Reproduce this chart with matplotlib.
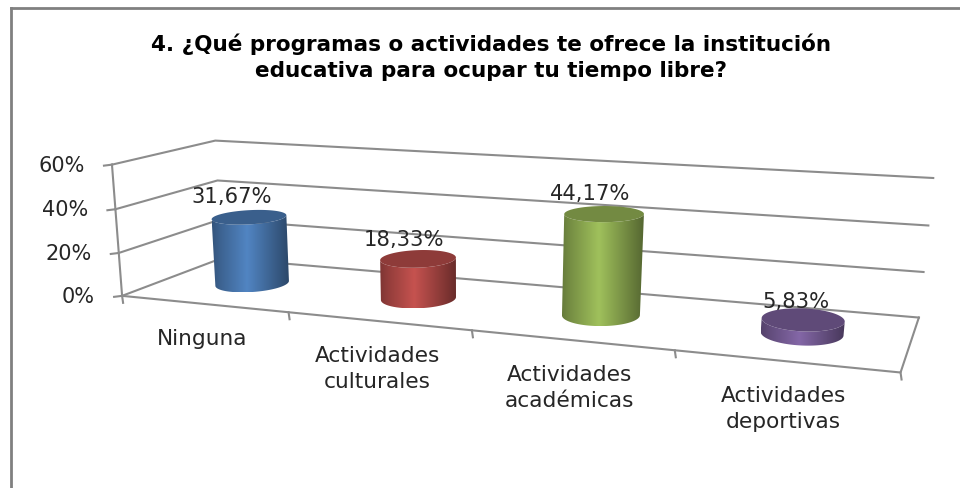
import matplotlib
matplotlib.use("Agg")
import matplotlib.pyplot as plt
import numpy as np
from matplotlib.patches import Polygon
from matplotlib.colors import to_rgb

# values
categories = ["Ninguna", "Actividades\nculturales", "Actividades\nacadémicas", "Actividades\ndeportivas"]
values = [31.67, 18.33, 44.17, 5.83]
value_labels = ["31,67%", "18,33%", "44,17%", "5,83%"]
y_ticks = [0, 20, 40, 60]
y_tick_labels = ["0%", "20%", "40%", "60%"]
colors = ["#4F81BD", "#C0504D", "#9BBB59", "#8064A2"]

title = "4. ¿Qué programas o actividades te ofrece la institución\neducativa para ocupar tu tiempo libre?"
grid_color = "#8c8c8c"
text_color = "#262626"

# camera: (category pos, depth, value) -> pixel, fitted on the corners of the 3D box
calib = [
    ((0, 0, 0), (123, 296)), ((0, 0, 20), (120, 253)), ((0, 0, 40), (115, 209)), ((0, 0, 60), (110, 165)),
    ((0, 1, 0), (220, 259)), ((0, 1, 20), (219, 219)), ((0, 1, 40), (218, 181)), ((0, 1, 60), (217, 140)),
    ((4, 1, 0), (919, 317)), ((4, 1, 20), (924, 272)), ((4, 1, 40), (928, 226)), ((4, 1, 60), (933, 178)),
    ((4, 0, 0), (901, 373)), ((1, 0, 0), (289, 312)), ((2, 0, 0), (472, 330)), ((3, 0, 0), (674, 350)),
]
A, rhs = [], []
for (u, v, z), (px, py) in calib:
    A.append([u, v, z, 1, 0, 0, 0, 0, -px * u, -px * v, -px * z])
    rhs.append(px)
    A.append([0, 0, 0, 0, u, v, z, 1, -py * u, -py * v, -py * z])
    rhs.append(py)
cam = np.linalg.lstsq(np.array(A, float), np.array(rhs, float), rcond=None)[0]


def project(u, v, z):
    u, v, z = np.asarray(u, float), np.asarray(v, float), np.asarray(z, float)
    w = cam[8] * u + cam[9] * v + cam[10] * z + 1
    return (cam[0] * u + cam[1] * v + cam[2] * z + cam[3]) / w, (cam[4] * u + cam[5] * v + cam[6] * z + cam[7]) / w


fig = plt.figure(figsize=(9.6, 4.88), dpi=100)
ax = fig.add_axes([0, 0, 1, 1])
ax.axis("off")

# chart frame, only top and left are visible
ax.plot([10.5, 960], [8, 8], color="#808080", lw=2, zorder=1)
ax.plot([10.5, 10.5], [8, 488], color="#808080", lw=2, zorder=1)

ax.text(491, 57, title, ha="center", va="center", fontsize=15.5, fontweight="bold",
        family="DejaVu Sans", color="black", linespacing=1.36)

# walls, floor and gridlines
for t, lab in zip(y_ticks, y_tick_labels):
    x, y = project([0, 0, 4], [0, 1, 1], [t, t, t])
    ax.plot(x, y, color=grid_color, lw=1.5, zorder=2)
    ax.plot([x[0] - 8, x[0]], [y[0] + 1, y[0]], color=grid_color, lw=1.5, zorder=2)
    ax.text(x[0] - 27.5, y[0] + 1, lab, ha="right", va="center", fontsize=15, color=text_color)

x, y = project([0, 0], [0, 0], [0, y_ticks[-1]])
ax.plot(x, y, color=grid_color, lw=1.5, zorder=2)
x, y = project([0, 4, 4], [0, 0, 1], [0, 0, 0])
ax.plot(x, y, color=grid_color, lw=1.5, zorder=2)
for i in range(len(categories) + 1):
    x, y = project(i, 0, 0)
    ax.plot([x, x + 1], [y, y + 7], color=grid_color, lw=1.5, zorder=2)

# cylinders
theta = np.linspace(0, 2 * np.pi, 361)
radius_u, radius_v = 0.193, 0.22
label_offsets = [(-18, -20), (-14, -19), (-14, -20), (-7, -18)]
grad_t = np.linspace(0, 1, 128)


def shade(base, t):
    # dark at the edges, base colour a bit left of the middle
    c = np.array(to_rgb(base))
    k = np.interp(t, [0, 0.1, 0.45, 0.9, 1], [0.66, 0.76, 1.03, 0.64, 0.55])
    return np.clip(c[None, :] * k[:, None], 0, 1)


def front_arc(x, y):
    # lower edge of an ellipse, from its left side to its right side
    x, y = x[:-1], y[:-1]
    left, right = np.argmin(x), np.argmax(x)
    n = len(x)
    one = [(left + k) % n for k in range((right - left) % n + 1)]
    two = [(left - k) % n for k in range((left - right) % n + 1)]
    idx = one if np.mean(y[one]) > np.mean(y[two]) else two
    return x[idx], y[idx]


for i, (val, col) in enumerate(zip(values, colors)):
    cu, cv = i + 0.5, 0.5
    bx, by = project(cu + radius_u * np.cos(theta), cv + radius_v * np.sin(theta), 0 * theta)
    tx, ty = project(cu + radius_u * np.cos(theta), cv + radius_v * np.sin(theta), 0 * theta + val)
    bax, bay = front_arc(bx, by)
    tax, tay = front_arc(tx, ty)
    side = np.vstack([np.column_stack([bax, bay]), np.column_stack([tax, tay])[::-1]])
    # horizontal gradient clipped to the cylinder body
    img = ax.imshow(shade(col, grad_t)[None, :, :], extent=(side[:, 0].min(), side[:, 0].max(), side[:, 1].max(), side[:, 1].min()),
                    aspect="auto", interpolation="bilinear", zorder=3)
    clip = Polygon(side, closed=True, transform=ax.transData, facecolor="none", edgecolor="none")
    ax.add_patch(clip)
    img.set_clip_path(clip)
    ax.add_patch(Polygon(np.column_stack([tx, ty]), closed=True, facecolor=tuple(np.array(to_rgb(col)) * 0.74),
                         edgecolor="none", zorder=4))
    lx, ly = project(cu, cv, val)
    ax.text(lx + label_offsets[i][0], ly + label_offsets[i][1], value_labels[i], ha="center", va="center",
            fontsize=15.2, color=text_color, zorder=5)
    fx, fy = project(cu, 0, 0)
    ax.text(fx - 1, fy + 25, categories[i], ha="center", va="top", fontsize=15.6, color=text_color,
            linespacing=1.4, zorder=5)

ax.set_xlim(0, 960)
ax.set_ylim(488, 0)
fig.savefig("out.png", dpi=100)
